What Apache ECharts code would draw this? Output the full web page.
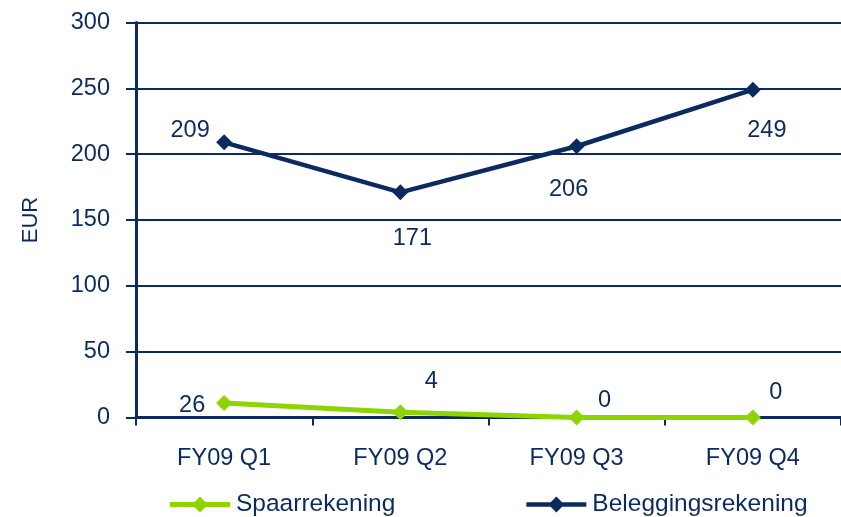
<!DOCTYPE html>
<html><head><meta charset="utf-8">
<script src="https://cdn.jsdelivr.net/npm/echarts@6/dist/echarts.min.js"></script>
<style>html,body{margin:0;padding:0;background:#fff}#c{width:841px;height:517px}</style>
</head><body><div id="c"></div>
<script>
const categories = ['FY09 Q1', 'FY09 Q2', 'FY09 Q3', 'FY09 Q4'];
const spaarValues = [11, 4, 0, 0];
const spaarLabels = ['26', '4', '0', '0'];
const belegValues = [209, 171, 206, 249];
const belegLabels = ['209', '171', '206', '249'];
const yTicks = [0, 50, 100, 150, 200, 250, 300];

const NAVY = '#0b2b5e', GREEN = '#8ed400';
const FONT = 'Liberation Sans';
const FS = 23.5;
const spaarOffsets = [[-32, 2], [31, -31], [28, -17], [23, -25]];
const belegOffsets = [[-34, -12], [12, 46], [-8, 43], [14, 41]];
const ICON_G = 'path://M1 5.5 L61 5.5 L61 10.5 L1 10.5 Z M31 0 L39 8 L31 16 L23 8 Z';
const ICON_N = 'path://M1 5.75 L61 5.75 L61 10.25 L1 10.25 Z M31 0 L39 8 L31 16 L23 8 Z';

function mk(values, labels, offsets) {
  return values.map((v, i) => ({
    value: v,
    label: { show: true, position: 'inside', offset: offsets[i], formatter: () => labels[i] }
  }));
}

const chart = echarts.init(document.getElementById('c'), null, {renderer: 'canvas'});
chart.setOption({
  animation: false,
  textStyle: { fontFamily: FONT },
  grid: { left: 136, right: -2, top: 22.5, bottom: 99.5, containLabel: false },
  legend: {
    left: 165, top: 487, itemWidth: 62, itemHeight: 16, itemGap: 131,
    textStyle: { color: NAVY, fontSize: 24.5, fontFamily: FONT, padding: [0, 0, 0, 0] },
    data: [
      { name: 'Spaarrekening', icon: ICON_G, itemStyle: { color: GREEN } },
      { name: 'Beleggingsrekening', icon: ICON_N, itemStyle: { color: NAVY } }
    ]
  },
  xAxis: {
    type: 'category', data: categories, boundaryGap: true,
    axisLine: { lineStyle: { color: NAVY, width: 3 } },
    axisTick: { show: true, length: 8, lineStyle: { color: NAVY, width: 2 } },
    axisLabel: { color: NAVY, fontSize: FS, margin: 29, fontFamily: FONT }
  },
  yAxis: {
    type: 'value', min: yTicks[0], max: yTicks[yTicks.length - 1], interval: 50,
    name: 'EUR', nameLocation: 'middle', nameGap: 94, nameRotate: 90,
    nameTextStyle: { color: NAVY, fontSize: 22, fontFamily: FONT },
    axisLine: { show: true, lineStyle: { color: NAVY, width: 3 } },
    axisTick: { show: true, length: 10, lineStyle: { color: NAVY, width: 2 } },
    axisLabel: { color: NAVY, fontSize: FS, margin: 26, fontFamily: FONT },
    splitLine: { show: true, lineStyle: { color: NAVY, width: 2 } }
  },
  series: [
    {
      name: 'Spaarrekening', type: 'line', data: mk(spaarValues, spaarLabels, spaarOffsets),
      symbol: 'diamond', symbolSize: 16, z: 3,
      lineStyle: { color: GREEN, width: 5 }, itemStyle: { color: GREEN },
      label: { color: NAVY, fontSize: FS, fontFamily: FONT }
    },
    {
      name: 'Beleggingsrekening', type: 'line', data: mk(belegValues, belegLabels, belegOffsets),
      symbol: 'diamond', symbolSize: 16, z: 2,
      lineStyle: { color: NAVY, width: 4.5 }, itemStyle: { color: NAVY },
      label: { color: NAVY, fontSize: FS, fontFamily: FONT }
    }
  ]
});
</script></body></html>
